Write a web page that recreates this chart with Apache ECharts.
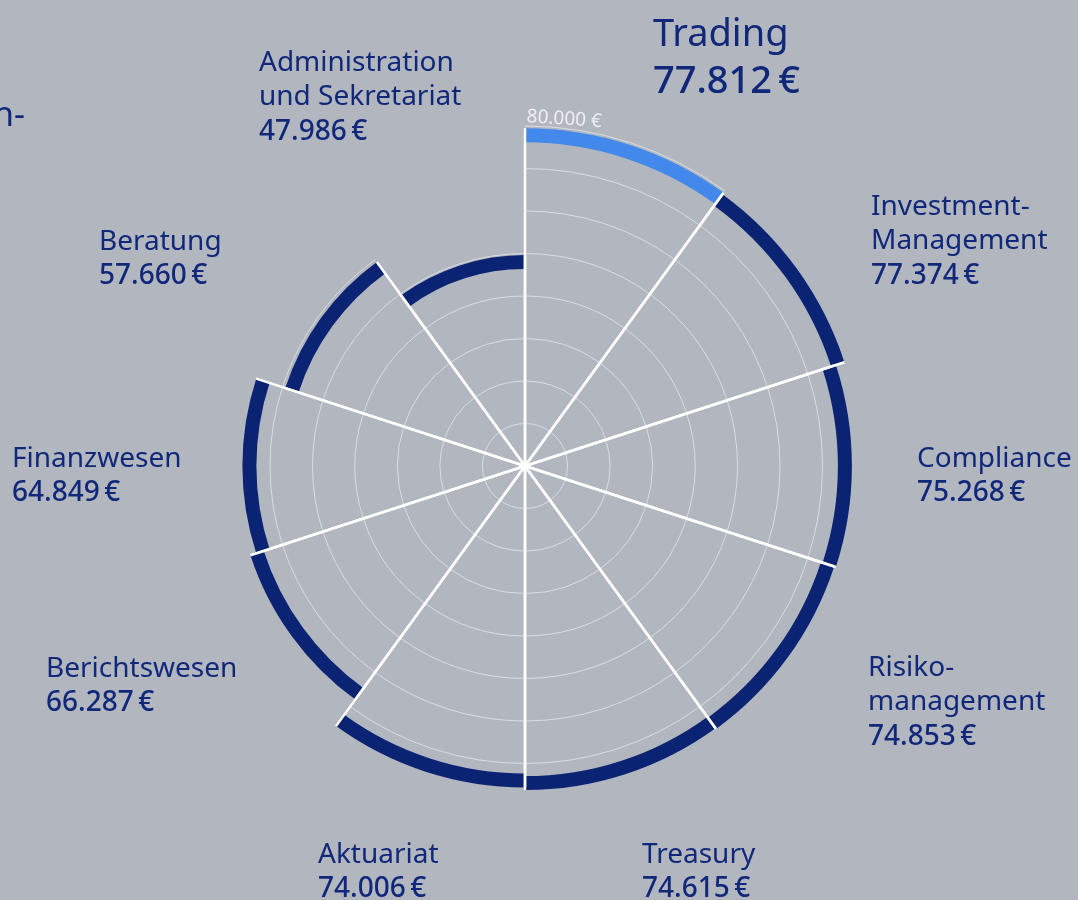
<!DOCTYPE html>
<html>
<head>
<meta charset="utf-8">
<style>
  html, body { margin: 0; padding: 0; background: #b2b7bf; }
  #chart { width: 1078px; height: 900px; }
</style>
<script src="https://cdn.jsdelivr.net/npm/echarts@6/dist/echarts.min.js"></script>
</head>
<body>
<div id="chart"></div>
<script>
// Kosten je Abteilung
var categories = ['Trading', 'Investment-\nManagement', 'Compliance', 'Risiko-\nmanagement', 'Treasury',
  'Aktuariat', 'Berichtswesen', 'Finanzwesen', 'Beratung', 'Administration\nund Sekretariat'];
var costs = [77812, 77374, 75268, 74853, 74615, 74006, 66287, 64849, 57660, 47986];
var radiusMax = 80000;
var radiusStep = 10000;
var radiusTickLabels = { 80000: '80.000 €' };
var highlight = 'Trading';

// label blocks: left x, centre of first line
var labelPos = [[653, 35], [871, 207], [917, 459], [868, 668], [642, 855],
  [318, 855], [46, 669], [12, 459], [99, 242], [259, 63]];

var navy = '#0b2373', blue = '#4389ec', textColor = '#11287a';
var band = 7;

function euro(v) {
  return String(v).replace(/\B(?=(\d{3})+(?!\d))/g, '.') + '\u2009€';
}

var chart = echarts.init(document.getElementById('chart'));

function renderSector(params, api) {
  var cs = params.coordSys;
  var cx = cs.cx, cy = cs.cy;
  var v = api.value(0), i = api.value(1);
  var p = api.coord([v, i]);
  var r = Math.sqrt((p[0] - cx) * (p[0] - cx) + (p[1] - cy) * (p[1] - cy));
  var mid = Math.atan2(p[1] - cy, p[0] - cx);
  var half = Math.PI / categories.length;
  var a0 = mid - half, a1 = mid + half;
  var children = [];
  for (var t = radiusStep; t <= radiusMax; t += radiusStep) {
    var q = api.coord([t, i]);
    var rt = Math.sqrt((q[0] - cx) * (q[0] - cx) + (q[1] - cy) * (q[1] - cy));
    if (rt > r + band + 3) break;
    children.push({
      type: 'arc', z2: 1,
      shape: { cx: cx, cy: cy, r: rt, startAngle: a0, endAngle: a1, clockwise: true },
      style: { stroke: '#d9dce2', lineWidth: 1, fill: null }
    });
  }
  children.push({
    type: 'sector', z2: 5,
    shape: { cx: cx, cy: cy, r0: r - band, r: r + band, startAngle: a0, endAngle: a1, clockwise: true },
    style: { fill: categories[i] === highlight ? blue : navy }
  });
  [a0, a1].forEach(function (a) {
    children.push({
      type: 'line', z2: 10,
      shape: { x1: cx, y1: cy, x2: cx + (r + band) * Math.cos(a), y2: cy + (r + band) * Math.sin(a) },
      style: { stroke: '#ffffff', lineWidth: 2.5 }
    });
  });
  return { type: 'group', children: children };
}

var graphics = [{
  type: 'text', left: -7, top: 99,
  style: { text: 'n-', fill: textColor, font: '34px "Noto Sans"' }
}];
categories.forEach(function (name, i) {
  var big = name === highlight;
  var size = big ? 38 : 28;
  var lh = big ? 47 : 34.5;
  var lines = name.split('\n');
  lines.forEach(function (ln, k) {
    graphics.push({
      type: 'text', x: labelPos[i][0], y: labelPos[i][1] + k * lh,
      style: { text: ln, fill: textColor, font: size + 'px "Noto Sans"', verticalAlign: 'middle', align: 'left' }
    });
  });
  graphics.push({
    type: 'text', x: labelPos[i][0], y: labelPos[i][1] + lines.length * lh,
    style: { text: euro(costs[i]), fill: textColor, font: '500 ' + size + 'px "Noto Sans"', verticalAlign: 'middle', align: 'left' }
  });
});

var option = {
  backgroundColor: '#b2b7bf',
  animation: false,
  polar: { center: [525, 466], radius: 340 },
  angleAxis: {
    type: 'category', data: categories, startAngle: 90, clockwise: true,
    axisLine: { show: false }, axisTick: { show: false }, axisLabel: { show: false }, splitLine: { show: false }
  },
  radiusAxis: {
    type: 'value', min: 0, max: radiusMax, interval: radiusStep,
    axisLine: { show: false }, axisTick: { show: false }, splitLine: { show: false },
    axisLabel: {
      formatter: function (v) { return radiusTickLabels[v] || ''; },
      color: '#eef0f3', fontSize: 19, fontFamily: 'Noto Sans',
      align: 'left', verticalAlign: 'bottom', margin: -1, rotate: -4
    }
  },
  series: [{
    type: 'custom',
    coordinateSystem: 'polar',
    renderItem: renderSector,
    encode: { radius: 0, angle: 1 },
    data: costs.map(function (v, i) { return [v, i]; })
  }],
  graphic: graphics
};
chart.setOption(option);
</script>
</body>
</html>
